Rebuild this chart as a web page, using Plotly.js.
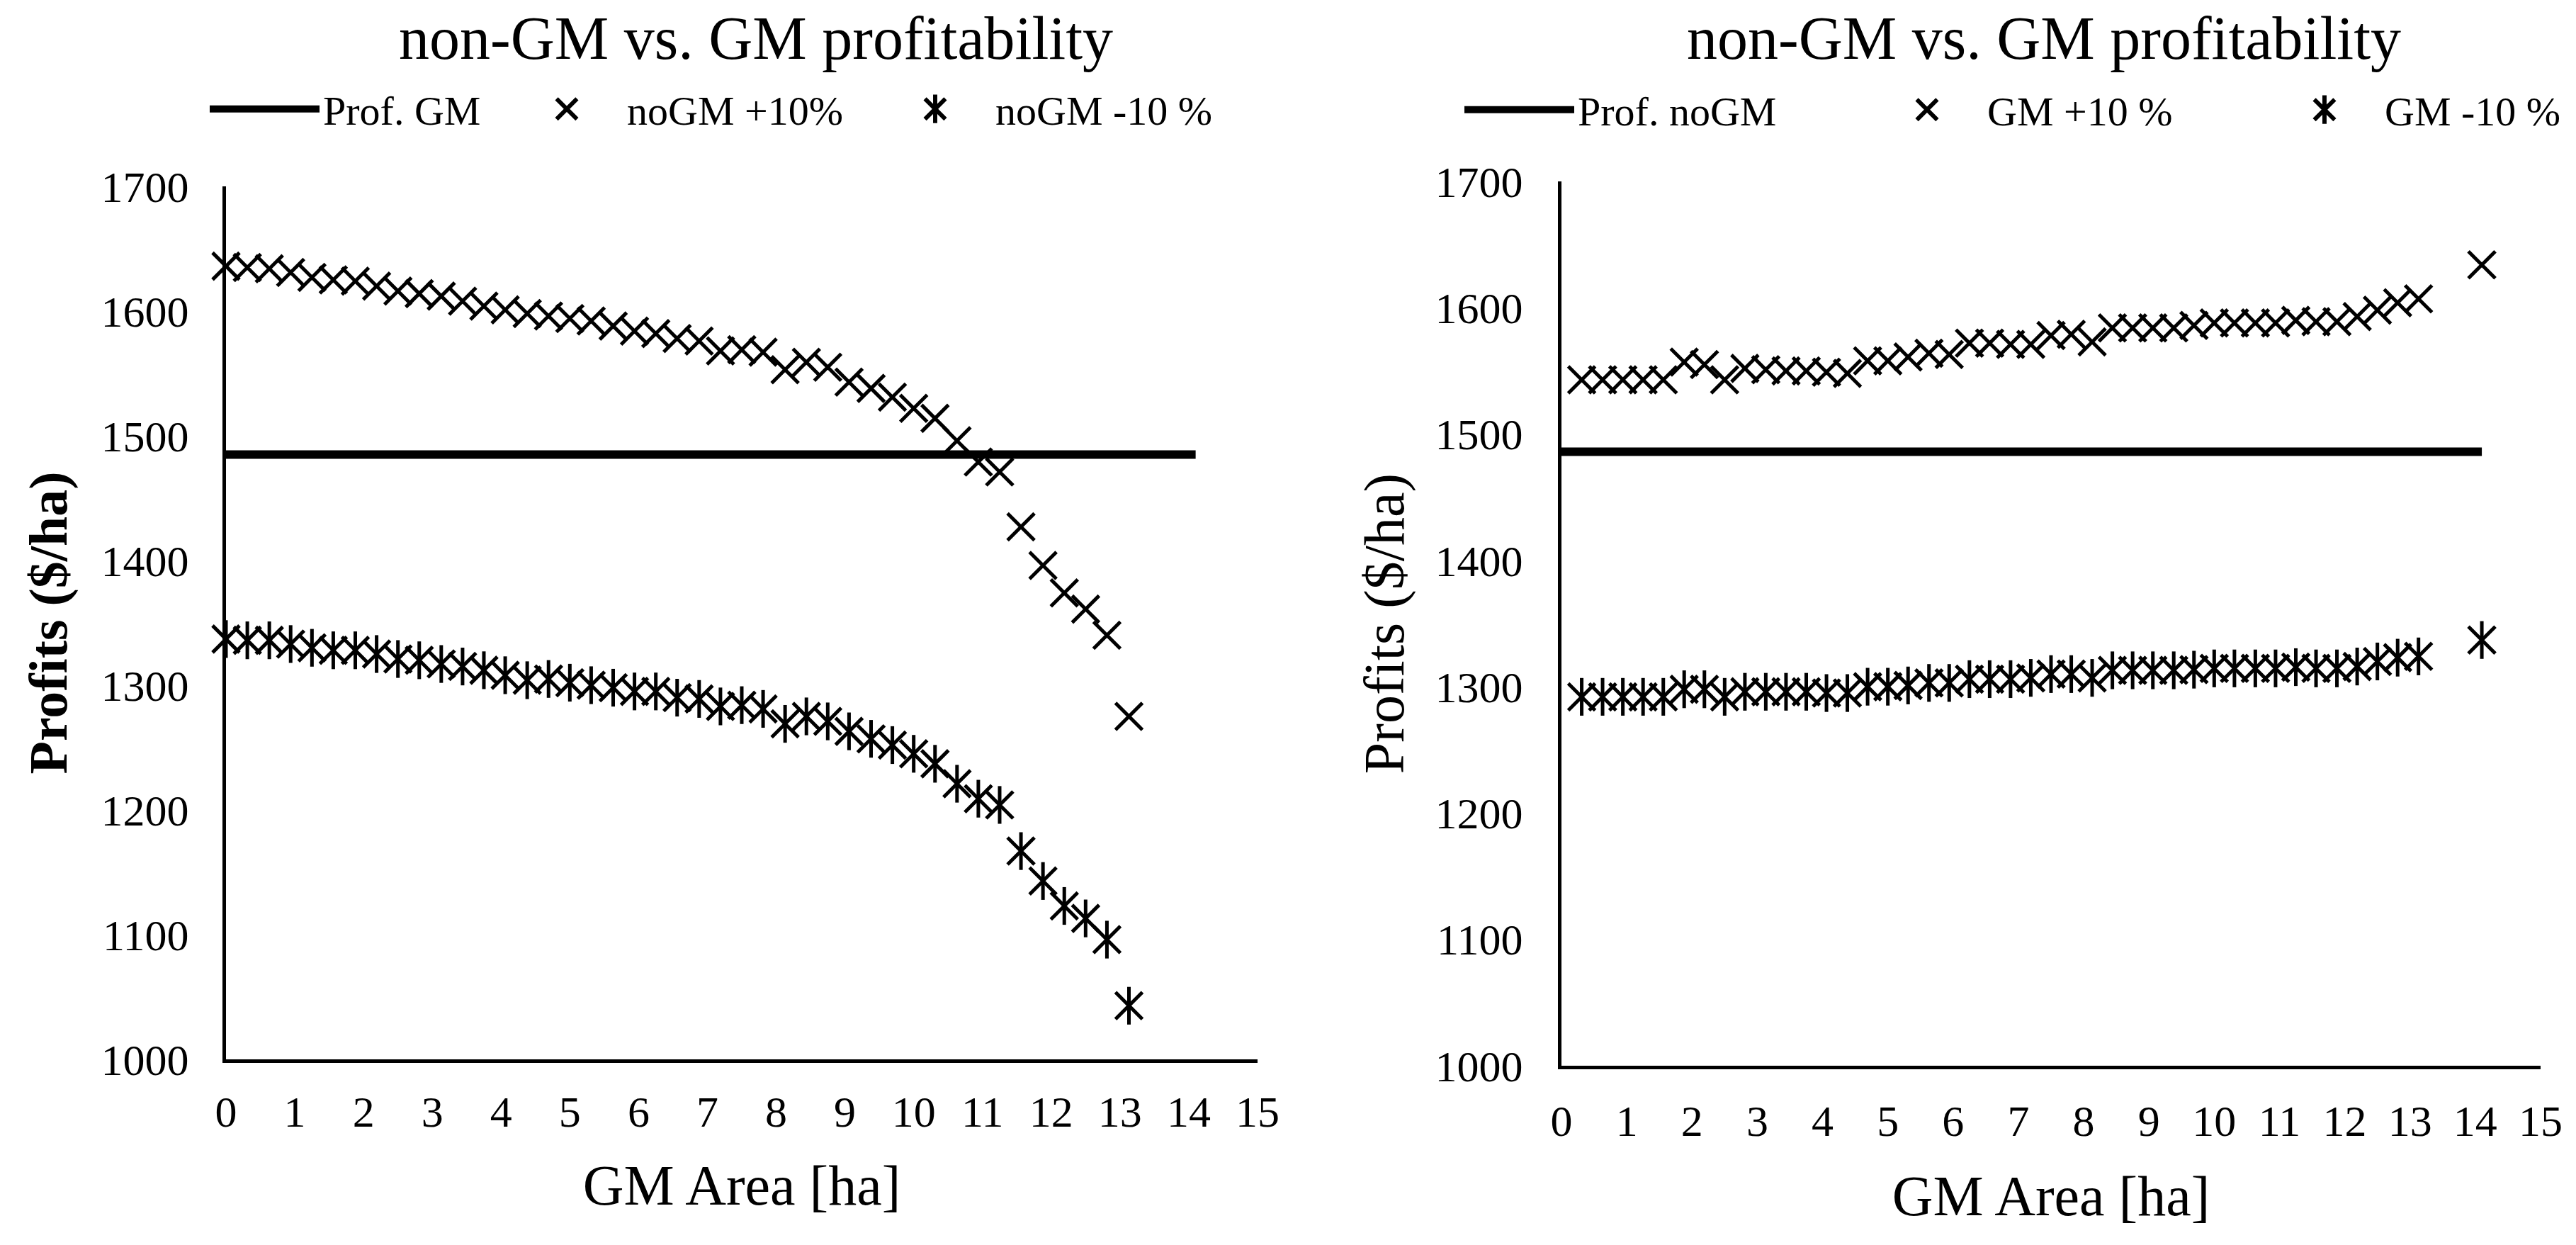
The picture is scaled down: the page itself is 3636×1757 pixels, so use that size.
<!DOCTYPE html>
<html>
<head>
<meta charset="utf-8">
<script src="https://cdn.plot.ly/plotly-3.0.1.min.js"></script>
<style>html,body{margin:0;padding:0;background:#fff}</style>
</head>
<body>
<div id="chart" style="width:3636px;height:1757px"></div>
<script>
// GM area steps (ha)
const X_LEFT = [0, 0.31, 0.63, 0.94, 1.25, 1.56, 1.88, 2.19, 2.5, 2.81, 3.13, 3.44, 3.75, 4.06, 4.38,
    4.69, 5, 5.31, 5.63, 5.94, 6.25, 6.56, 6.88, 7.19, 7.5, 7.81, 8.13, 8.44, 8.75, 9.06, 9.38, 9.69,
    10, 10.31, 10.63, 10.94, 11.25, 11.56, 11.88, 12.19, 12.5, 12.81, 13.13];
const X_RIGHT = [0.31, 0.63, 0.94, 1.25, 1.56, 1.88, 2.19, 2.5, 2.81, 3.13, 3.44, 3.75, 4.06, 4.38,
    4.69, 5, 5.31, 5.63, 5.94, 6.25, 6.56, 6.88, 7.19, 7.5, 7.81, 8.13, 8.44, 8.75, 9.06, 9.38, 9.69,
    10, 10.31, 10.63, 10.94, 11.25, 11.56, 11.88, 12.19, 12.5, 12.81, 13.13, 14.1];

// left panel: profit of GM vs noGM +/- 10%
const PROF_X = [0, 14.1];
const PROF_GM = [1485, 1485];
const NOGM_PLUS = [1636, 1635, 1634, 1631, 1627, 1625, 1624, 1620, 1616, 1614, 1612, 1608, 1604, 1601, 1598,
    1596, 1594, 1592, 1588, 1584, 1582, 1578, 1576, 1568, 1569, 1567, 1553, 1559, 1555, 1543, 1538, 1531,
    1522, 1514, 1496, 1479, 1471, 1427, 1396, 1374, 1361, 1340, 1275];
const NOGM_MINUS = [1337, 1336, 1336, 1333, 1330, 1328, 1328, 1325, 1321, 1320, 1317, 1315, 1312, 1308, 1304,
    1305, 1302, 1300, 1298, 1295, 1295, 1290, 1289, 1283, 1284, 1281, 1269, 1275, 1271, 1263, 1257, 1252,
    1245, 1237, 1221, 1209, 1204, 1167, 1143, 1123, 1113, 1096, 1043];

// right panel: profit of noGM vs GM +/- 10%
const PROF_NOGM = [1486, 1486];
const GM_PLUS = [1543, 1543, 1543, 1543, 1543, 1557, 1555, 1543, 1552, 1551, 1550, 1550, 1549, 1548,
    1558, 1558, 1561, 1564, 1563, 1572, 1572, 1571, 1571, 1578, 1579, 1573, 1584, 1584, 1584, 1584, 1586,
    1588, 1588, 1588, 1588, 1590, 1589, 1589, 1593, 1598, 1604, 1607, 1634];
const GM_MINUS = [1292, 1292, 1292, 1292, 1292, 1298, 1298, 1292, 1296, 1296, 1296, 1296, 1295, 1295,
    1300, 1300, 1301, 1303, 1303, 1306, 1306, 1306, 1307, 1310, 1310, 1307, 1313, 1313, 1313, 1313, 1313.5,
    1314.5, 1314.5, 1314.5, 1314.5, 1315.5, 1314.5, 1314.5, 1316, 1320, 1323, 1324, 1337];

const W = 3636, H = 1757;
const FONT = "Liberation Serif, Times New Roman, serif";

function px(x) { return x / W; }
function py(y) { return 1 - y / H; }

function lineTrace(x, y, name, xa, ya, legend) {
    return {
        x: x, y: y, name: name, mode: "lines",
        xaxis: xa, yaxis: ya, legend: legend,
        line: { color: "black", width: 12 },
        hoverinfo: "skip"
    };
}

function markerTrace(x, y, name, symbol, xa, ya, legend) {
    return {
        x: x, y: y, name: name, mode: "markers",
        xaxis: xa, yaxis: ya, legend: legend,
        cliponaxis: false,
        marker: {
            symbol: symbol, size: 38, color: "black",
            line: { color: "black", width: 5 }
        }
    };
}

// the Excel "star" marker = x plus a vertical bar
const traces = [
    lineTrace(PROF_X, PROF_GM, "Prof. GM", "x", "y", "legend"),
    markerTrace(X_LEFT, NOGM_PLUS, "noGM +10%", "x-thin-open", "x", "y", "legend2"),
    markerTrace(X_LEFT, NOGM_MINUS, "noGM -10 %", "x-thin-open", "x", "y", "legend3"),
    markerTrace(X_LEFT, NOGM_MINUS, "", "line-ns-open", "x", "y", "legend4"),

    lineTrace(PROF_X, PROF_NOGM, "Prof. noGM", "x2", "y2", "legend5"),
    markerTrace(X_RIGHT, GM_PLUS, "GM +10 %", "x-thin-open", "x2", "y2", "legend6"),
    markerTrace(X_RIGHT, GM_MINUS, "GM -10 %", "x-thin-open", "x2", "y2", "legend7"),
    markerTrace(X_RIGHT, GM_MINUS, "", "line-ns-open", "x2", "y2", "legend8")
];

function legendAt(xpx, ypx, itemwidth) {
    return {
        x: px(xpx), y: py(ypx), xanchor: "left", yanchor: "middle",
        orientation: "h", itemwidth: itemwidth,
        bgcolor: "rgba(0,0,0,0)", borderwidth: 0,
        font: { family: FONT, size: 58, color: "black" },
        itemclick: false, itemdoubleclick: false
    };
}

function xAxis(d0, d1, anchor, labelGap, titleGap) {
    return {
        domain: [px(d0), px(d1)], anchor: anchor,
        range: [0, 15], tick0: 0, dtick: 1,
        showline: true, linecolor: "black", linewidth: 5,
        showgrid: false, zeroline: false, ticks: "",
        ticklabelstandoff: labelGap,
        tickfont: { family: FONT, size: 62, color: "black" },
        title: { text: "GM Area [ha]", standoff: titleGap, font: { family: FONT, size: 80, color: "black" } },
        fixedrange: true
    };
}

function yAxis(top, bottom, anchor, bold, labelGap, titleGap) {
    return {
        domain: [py(bottom), py(top)], anchor: anchor,
        range: [1000, 1700], tick0: 1000, dtick: 100,
        showline: true, linecolor: "black", linewidth: 5,
        showgrid: false, zeroline: false, ticks: "",
        ticklabelstandoff: labelGap,
        tickfont: { family: FONT, size: 62, color: "black" },
        title: {
            text: "Profits ($/ha)", standoff: titleGap,
            font: { family: FONT, size: bold ? 76 : 80, color: "black", weight: bold ? "bold" : "normal" }
        },
        fixedrange: true
    };
}

const layout = {
    width: W, height: H, autosize: false,
    margin: { l: 0, r: 0, t: 0, b: 0 },
    paper_bgcolor: "white", plot_bgcolor: "white",
    font: { family: FONT, color: "black" },
    xaxis: xAxis(319, 1775, "y", 16, 43),
    yaxis: yAxis(263, 1495, "x", true, 35, 24),
    xaxis2: xAxis(2204, 3586, "y2", 20, 45),
    yaxis2: yAxis(256, 1504, "x2", false, 37, 19),

    legend: legendAt(291, 154, 155),
    legend2: legendAt(715, 154, 160),
    legend3: legendAt(1235, 154, 160),
    legend4: legendAt(1235, 154, 160),
    legend5: legendAt(2062, 155, 155),
    legend6: legendAt(2635, 155, 160),
    legend7: legendAt(3196, 155, 160),
    legend8: legendAt(3196, 155, 160),

    annotations: [
        {
            text: "non-GM vs. GM profitability", xref: "paper", yref: "paper",
            x: px(1067), y: py(54), xanchor: "center", yanchor: "middle", showarrow: false,
            font: { family: FONT, size: 86, color: "black" }
        },
        {
            text: "non-GM vs. GM profitability", xref: "paper", yref: "paper",
            x: px(2885), y: py(54), xanchor: "center", yanchor: "middle", showarrow: false,
            font: { family: FONT, size: 86, color: "black" }
        }
    ],
    showlegend: true
};

Plotly.newPlot("chart", traces, layout, { staticPlot: true, displayModeBar: false }).then(gd => {
    // plotly caps legend symbols at 16px; the Excel legend symbols are about twice that
    gd.querySelectorAll(".legendpoints path.scatterpts").forEach(p => {
        const t = p.getAttribute("transform") || "";
        p.setAttribute("transform", t + " scale(1.8)");
        p.style.strokeWidth = "3.3px";
    });
});
</script>
</body>
</html>
